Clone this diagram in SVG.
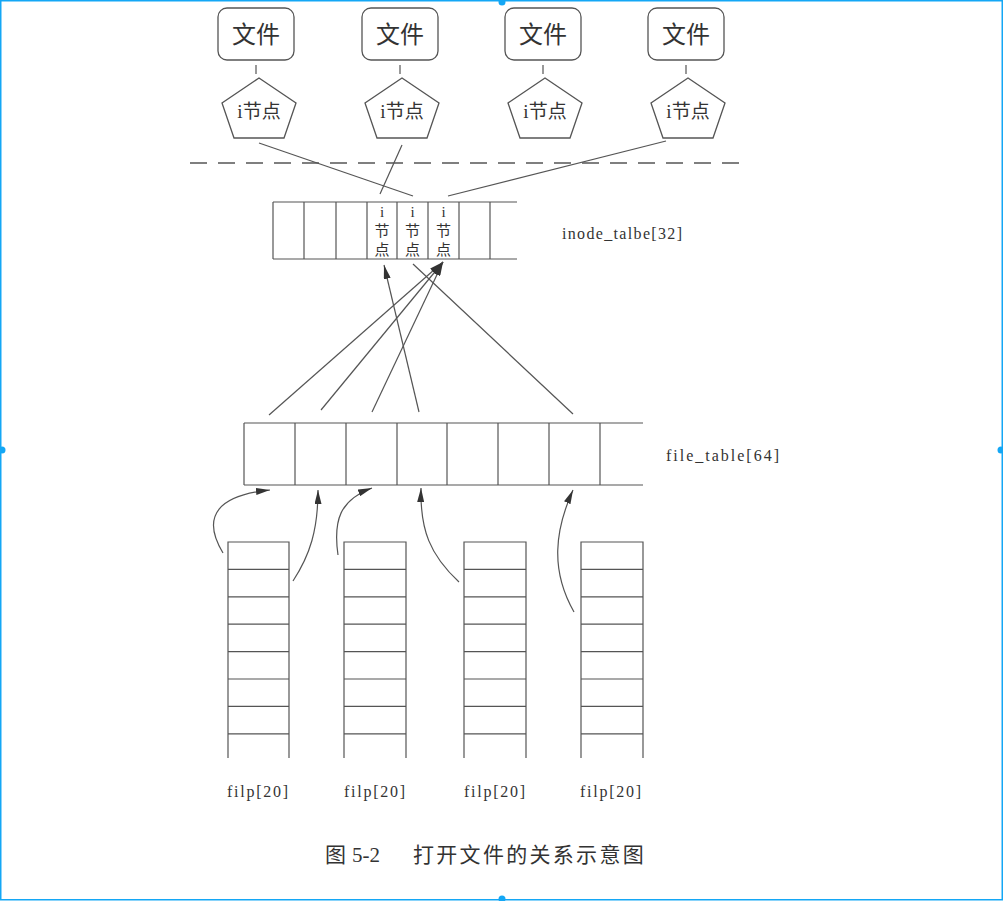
<svg xmlns="http://www.w3.org/2000/svg" width="1003" height="901" viewBox="0 0 1003 901">
<defs>
<style>
.ln{fill:none;stroke:#555;stroke-width:1.2}
.bx{fill:#fff;stroke:#555;stroke-width:1.3}
.cn{font-family:"Liberation Serif","Noto Sans CJK SC",serif;fill:#333}
.mono{font-family:"Liberation Serif","Noto Sans CJK SC",serif;fill:#333;font-size:16px}
.ar{fill:none;stroke:#555;stroke-width:1.2;marker-end:url(#ah)}
</style>
<marker id="ah" markerUnits="userSpaceOnUse" markerWidth="15" markerHeight="7" refX="14" refY="3.5" orient="auto">
<path d="M0,0 L14,3.5 L0,7 z" fill="#333"/>
</marker>
</defs>
<rect x="0" y="0" width="1003" height="901" fill="#fff"/>

<g id="file1"><rect class="bx" x="218" y="8" width="76" height="52" rx="9"/><text class="cn" x="256" y="43" font-size="24" text-anchor="middle">文件</text></g>
<g id="file2"><rect class="bx" x="362" y="8" width="76" height="52" rx="9"/><text class="cn" x="400" y="43" font-size="24" text-anchor="middle">文件</text></g>
<g id="file3"><rect class="bx" x="505" y="8" width="76" height="52" rx="9"/><text class="cn" x="543" y="43" font-size="24" text-anchor="middle">文件</text></g>
<g id="file4"><rect class="bx" x="648" y="8" width="76" height="52" rx="9"/><text class="cn" x="686" y="43" font-size="24" text-anchor="middle">文件</text></g>

<g id="inode1"><polygon class="bx" points="259,78 296,103 284,138 234,138 222,103"/><text class="cn" x="259" y="118" font-size="19" text-anchor="middle">i节点</text></g>
<g id="inode2"><polygon class="bx" points="402,78 439,103 427,138 377,138 365,103"/><text class="cn" x="402" y="118" font-size="19" text-anchor="middle">i节点</text></g>
<g id="inode3"><polygon class="bx" points="545,78 582,103 570,138 520,138 508,103"/><text class="cn" x="545" y="118" font-size="19" text-anchor="middle">i节点</text></g>
<g id="inode4"><polygon class="bx" points="688,78 725,103 713,138 663,138 651,103"/><text class="cn" x="688" y="118" font-size="19" text-anchor="middle">i节点</text></g>

<g id="divider"><line x1="190" y1="163" x2="745" y2="163" stroke="#555" stroke-width="1.3" stroke-dasharray="17 11"/></g>

<g id="inode_table">
<line class="ln" x1="273" y1="202" x2="517" y2="202"/>
<line class="ln" x1="273" y1="259" x2="517" y2="259"/>
<line class="ln" x1="273" y1="202" x2="273" y2="259"/>
<line class="ln" x1="304" y1="202" x2="304" y2="259"/>
<line class="ln" x1="336" y1="202" x2="336" y2="259"/>
<line class="ln" x1="367" y1="202" x2="367" y2="259"/>
<line class="ln" x1="397" y1="202" x2="397" y2="259"/>
<line class="ln" x1="428" y1="202" x2="428" y2="259"/>
<line class="ln" x1="459" y1="202" x2="459" y2="259"/>
<line class="ln" x1="490" y1="202" x2="490" y2="259"/>
<g class="cn" font-size="15" text-anchor="middle">
<text x="382" y="217">i</text><text x="382" y="236">节</text><text x="382" y="255">点</text>
<text x="412.5" y="217">i</text><text x="412.5" y="236">节</text><text x="412.5" y="255">点</text>
<text x="443.5" y="217">i</text><text x="443.5" y="236">节</text><text x="443.5" y="255">点</text>
</g>
<text class="mono" x="562" y="239" textLength="120">inode_talbe[32]</text>
</g>

<g id="file_table">
<line class="ln" x1="244" y1="423" x2="643" y2="423"/>
<line class="ln" x1="244" y1="485" x2="643" y2="485"/>
<line class="ln" x1="244" y1="423" x2="244" y2="485"/>
<line class="ln" x1="295" y1="423" x2="295" y2="485"/>
<line class="ln" x1="346" y1="423" x2="346" y2="485"/>
<line class="ln" x1="397" y1="423" x2="397" y2="485"/>
<line class="ln" x1="447" y1="423" x2="447" y2="485"/>
<line class="ln" x1="498" y1="423" x2="498" y2="485"/>
<line class="ln" x1="549" y1="423" x2="549" y2="485"/>
<line class="ln" x1="600" y1="423" x2="600" y2="485"/>
<text class="mono" x="666" y="461" textLength="113">file_table[64]</text>
</g>

<g id="filp1">
<path class="ln" d="M228,758 V542 H289 V758 M228,569.4 H289 M228,596.8 H289 M228,624.2 H289 M228,651.6 H289 M228,679 H289 M228,706.4 H289 M228,733.8 H289"/>
<text class="mono" x="227" y="797" textLength="61">filp[20]</text>
</g>
<g id="filp2">
<path class="ln" d="M344,758 V542 H406 V758 M344,569.4 H406 M344,596.8 H406 M344,624.2 H406 M344,651.6 H406 M344,679 H406 M344,706.4 H406 M344,733.8 H406"/>
<text class="mono" x="344" y="797" textLength="61">filp[20]</text>
</g>
<g id="filp3">
<path class="ln" d="M464,758 V542 H526 V758 M464,569.4 H526 M464,596.8 H526 M464,624.2 H526 M464,651.6 H526 M464,679 H526 M464,706.4 H526 M464,733.8 H526"/>
<text class="mono" x="464" y="797" textLength="61">filp[20]</text>
</g>
<g id="filp4">
<path class="ln" d="M581,758 V542 H643 V758 M581,569.4 H643 M581,596.8 H643 M581,624.2 H643 M581,651.6 H643 M581,679 H643 M581,706.4 H643 M581,733.8 H643"/>
<text class="mono" x="580" y="797" textLength="61">filp[20]</text>
</g>

<g id="connectors">
<line class="ln" x1="256" y1="65" x2="256" y2="74"/>
<line class="ln" x1="400" y1="65" x2="400" y2="74"/>
<line class="ln" x1="543" y1="65" x2="543" y2="74"/>
<line class="ln" x1="686" y1="65" x2="686" y2="74"/>
<line class="ln" x1="259" y1="143" x2="413" y2="196"/>
<line class="ln" x1="402" y1="145" x2="380" y2="194"/>
<line class="ln" x1="666" y1="141" x2="448" y2="196"/>
<line class="ar" x1="269" y1="415" x2="443" y2="262"/>
<line class="ar" x1="321" y1="410" x2="443" y2="262"/>
<line class="ar" x1="372" y1="412" x2="443" y2="262"/>
<line class="ar" x1="419" y1="412" x2="384" y2="265"/>
<line class="ln" x1="573" y1="414" x2="413" y2="264"/>
<path class="ar" d="M223,553 C200,515 220,495 270,490"/>
<path class="ar" d="M293,581 C310,555 318,530 318,490"/>
<path class="ar" d="M338,555 C333,520 340,500 372,488"/>
<path class="ar" d="M459,582 C430,555 420,530 421,488"/>
<path class="ar" d="M574,612 C550,570 555,530 573,490"/>
</g>

<g id="caption" font-family="Liberation Serif,Noto Sans CJK SC,serif" fill="#333" font-size="21">
<text x="325" y="862">图</text>
<text x="352" y="862">5-2</text>
<text x="413" y="862" letter-spacing="2.3">打开文件的关系示意图</text>
</g>

<g id="frame" fill="#14a7f5">
<rect x="0.75" y="0.75" width="1001.5" height="899" fill="none" stroke="#14a7f5" stroke-width="1.5"/>
<circle cx="2" cy="450" r="3.5"/>
<circle cx="1001" cy="450" r="3.5"/>
<circle cx="502" cy="2" r="3.5"/>
<circle cx="502" cy="899" r="3.5"/>
</g>
</svg>
